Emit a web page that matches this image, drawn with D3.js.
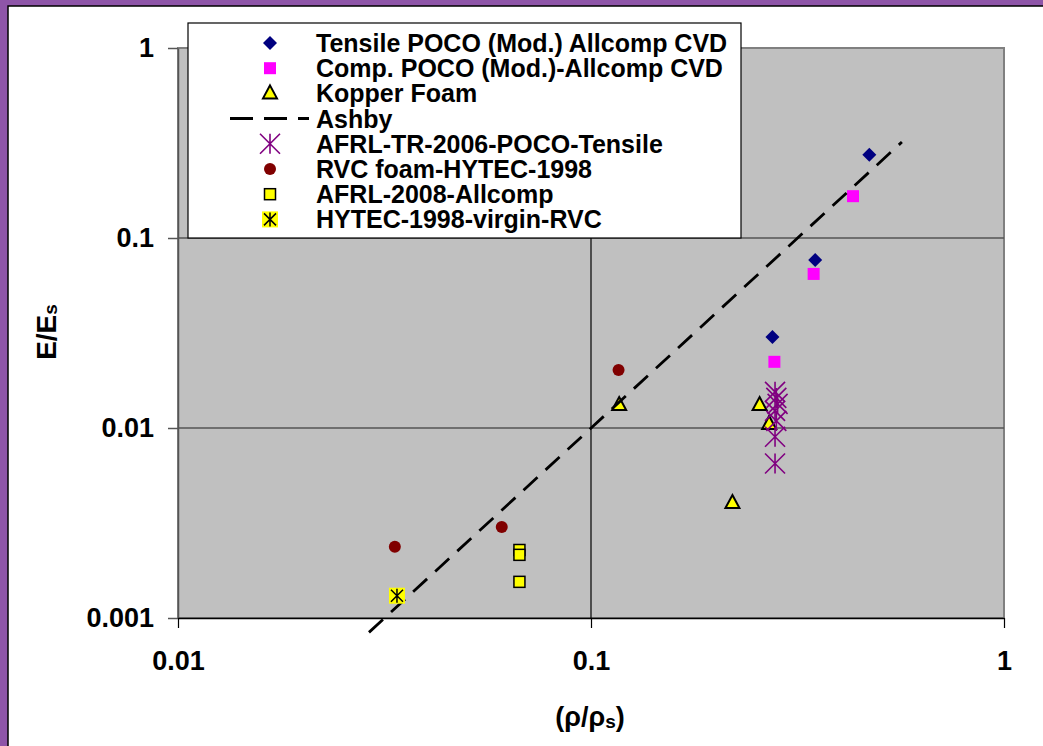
<!DOCTYPE html>
<html>
<head>
<meta charset="utf-8">
<script src="https://cdn.jsdelivr.net/npm/d3@7"></script>
<style>
body { margin: 0; background: #fff; }
text { font-family: "Liberation Sans", Arial, sans-serif; font-weight: bold; }
</style>
</head>
<body>
<div id="chart"></div>
<script>
// series values
var tensileX = [0.472, 0.349, 0.275];
var tensileY = [0.274, 0.0766, 0.0301];
var compX = [0.431, 0.346, 0.278];
var compY = [0.166, 0.0647, 0.0223];
var kopperX = [0.117, 0.256, 0.270, 0.220];
var kopperY = [0.0132, 0.0132, 0.0105, 0.00403];
var ashbyX = [0.029, 0.566];
var ashbyY = [0.00084, 0.320];
var afrlTrX = [0.279, 0.281, 0.283, 0.279, 0.281, 0.279, 0.279];
var afrlTrY = [0.0155, 0.0144, 0.0134, 0.0123, 0.0109, 0.0090, 0.0065];
var rvcX = [0.0335, 0.0608, 0.1166];
var rvcY = [0.00237, 0.00301, 0.0202];
var afrl08X = [0.0671, 0.0671, 0.0671];
var afrl08Y = [0.00228, 0.00215, 0.00155];
var hytecX = [0.0339];
var hytecY = [0.00131];

var legendLabels = ['Tensile POCO (Mod.) Allcomp CVD', 'Comp. POCO (Mod.)-Allcomp CVD', 'Kopper Foam', 'Ashby',
  'AFRL-TR-2006-POCO-Tensile', 'RVC foam-HYTEC-1998', 'AFRL-2008-Allcomp', 'HYTEC-1998-virgin-RVC'];
var xTicks = [0.01, 0.1, 1];
var yTicks = [0.001, 0.01, 0.1, 1];

var W = 1043, H = 746;
var pLeft = 178, pRight = 1004, pTop = 48, pBottom = 618;

var svg = d3.select("#chart").append("svg").attr("width", W).attr("height", H);

// purple frame
svg.append("rect").attr("x", 0).attr("y", 0).attr("width", W).attr("height", H).attr("fill", "#8e55a8");
svg.append("rect").attr("x", 8).attr("y", 6).attr("width", W).attr("height", H)
  .attr("fill", "#fff").attr("stroke", "#000").attr("stroke-width", 1.5);

var x = d3.scaleLog().domain([0.01, 1]).range([pLeft, pRight]);
var y = d3.scaleLog().domain([0.001, 1]).range([pBottom, pTop]);

svg.append("rect").attr("x", pLeft).attr("y", pTop).attr("width", pRight - pLeft).attr("height", pBottom - pTop)
  .attr("fill", "#c0c0c0").attr("stroke", "#808080").attr("stroke-width", 2);

// gridlines
svg.selectAll("line.hgrid").data([0.01, 0.1]).enter().append("line").attr("class", "hgrid")
  .attr("x1", pLeft).attr("x2", pRight).attr("y1", function(d) { return y(d); }).attr("y2", function(d) { return y(d); })
  .attr("stroke", "#555").attr("stroke-width", 1.5);
svg.selectAll("line.vgrid").data([0.1]).enter().append("line").attr("class", "vgrid")
  .attr("y1", pTop).attr("y2", pBottom).attr("x1", function(d) { return x(d); }).attr("x2", function(d) { return x(d); })
  .attr("stroke", "#000").attr("stroke-width", 1.2);

// axes
var yAxis = svg.append("g").attr("transform", "translate(" + pLeft + ",0)")
  .call(d3.axisLeft(y).tickValues(yTicks).tickSize(10).tickSizeOuter(0).tickPadding(14).tickFormat(function(d) { return String(d); }));
yAxis.select(".domain").attr("stroke", "#555").attr("stroke-width", 1.5);
yAxis.selectAll(".tick line").attr("stroke", "#555").attr("stroke-width", 1.5);
yAxis.selectAll("text").attr("font-size", "27px").attr("fill", "#000").attr("font-family", "Liberation Sans, Arial").attr("font-weight", "bold");

var xAxis = svg.append("g").attr("transform", "translate(0," + pBottom + ")")
  .call(d3.axisBottom(x).tickValues(xTicks).tickSize(10).tickSizeOuter(0).tickPadding(23).tickFormat(function(d) { return String(d); }));
xAxis.select(".domain").attr("stroke", "#000").attr("stroke-width", 1.5);
xAxis.selectAll(".tick line").attr("stroke", "#000").attr("stroke-width", 1.2);
xAxis.selectAll("text").attr("font-size", "27px").attr("fill", "#000").attr("font-family", "Liberation Sans, Arial").attr("font-weight", "bold");

// marker painters
function diamond(g, cx, cy) {
  g.append("path").attr("d", "M0,-7L7,0L0,7L-7,0Z")
    .attr("transform", "translate(" + cx + "," + cy + ")").attr("fill", "#000080");
}
function magSquare(g, cx, cy) {
  g.append("rect").attr("x", cx - 6).attr("y", cy - 6).attr("width", 12).attr("height", 12).attr("fill", "#ff00ff");
}
function triangle(g, cx, cy) {
  g.append("path").attr("d", "M0,-8L7,5L-7,5Z").attr("transform", "translate(" + cx + "," + cy + ")")
    .attr("fill", "#ffff00").attr("stroke", "#000").attr("stroke-width", 2).attr("stroke-linejoin", "miter");
}
function star(g, cx, cy) {
  var s = 10;
  g.append("path").attr("d", "M" + (-s) + "," + (-s) + "L" + s + "," + s + "M" + (-s) + "," + s + "L" + s + "," + (-s) + "M0," + (-s) + "L0," + s)
    .attr("transform", "translate(" + cx + "," + cy + ")").attr("stroke", "#800080").attr("stroke-width", 1.6).attr("fill", "none");
}
function circle(g, cx, cy) {
  g.append("circle").attr("cx", cx).attr("cy", cy).attr("r", 6).attr("fill", "#800000");
}
function ySquare(g, cx, cy) {
  g.append("rect").attr("x", cx - 5.5).attr("y", cy - 5.5).attr("width", 11).attr("height", 11)
    .attr("fill", "#ffff00").attr("stroke", "#000").attr("stroke-width", 1.5);
}
function hytec(g, cx, cy) {
  g.append("rect").attr("x", cx - 8).attr("y", cy - 8).attr("width", 16).attr("height", 16).attr("fill", "#ffff00");
  var s = 6;
  g.append("path").attr("d", "M" + (-s) + "," + (-s) + "L" + s + "," + s + "M" + (-s) + "," + s + "L" + s + "," + (-s) + "M0," + (-s - 1) + "L0," + (s + 1))
    .attr("transform", "translate(" + cx + "," + cy + ")").attr("stroke", "#000").attr("stroke-width", 1.5).attr("fill", "none");
}

var plot = svg.append("g");
function drawSeries(xs, ys, painter) {
  xs.forEach(function(v, i) { painter(plot, x(v), y(ys[i])); });
}
drawSeries(tensileX, tensileY, diamond);
drawSeries(compX, compY, magSquare);
drawSeries(kopperX, kopperY, triangle);
plot.append("path").datum(ashbyX.map(function(v, i) { return [v, ashbyY[i]]; }))
  .attr("d", d3.line().x(function(d) { return x(d[0]); }).y(function(d) { return y(d[1]); }))
  .attr("stroke", "#000").attr("stroke-width", 2.8).attr("stroke-dasharray", "19,11").attr("fill", "none");
drawSeries(afrlTrX, afrlTrY, star);
drawSeries(rvcX, rvcY, circle);
drawSeries(afrl08X, afrl08Y, ySquare);
drawSeries(hytecX, hytecY, hytec);

// legend
var leg = svg.append("g");
leg.append("rect").attr("x", 188).attr("y", 23).attr("width", 553).attr("height", 215)
  .attr("fill", "#fff").attr("stroke", "#000").attr("stroke-width", 1.2);
var painters = [diamond, magSquare, triangle, null, star, circle, ySquare, hytec];
legendLabels.forEach(function(lab, i) {
  var ly = 43 + i * 25.2;
  if (painters[i]) painters[i](leg, 270, ly);
  else leg.append("line").attr("x1", 230).attr("x2", 309).attr("y1", ly).attr("y2", ly)
    .attr("stroke", "#000").attr("stroke-width", 3).attr("stroke-dasharray", "23,11");
  leg.append("text").attr("x", 316).attr("y", ly).attr("dy", "0.36em").attr("font-size", "25px").text(lab);
});

// axis titles
var yt = svg.append("text").attr("transform", "translate(56,332) rotate(-90)").attr("text-anchor", "middle").attr("font-size", "28px");
yt.append("tspan").text("E/E");
yt.append("tspan").attr("font-size", "19px").attr("dy", "1").text("s");

var xt = svg.append("text").attr("x", 590).attr("y", 726).attr("text-anchor", "middle").attr("font-size", "27px");
xt.append("tspan").text("(ρ/ρ");
xt.append("tspan").attr("font-size", "19px").attr("dy", "2").text("s");
xt.append("tspan").attr("dy", "-2").text(")");
</script>
</body>
</html>
